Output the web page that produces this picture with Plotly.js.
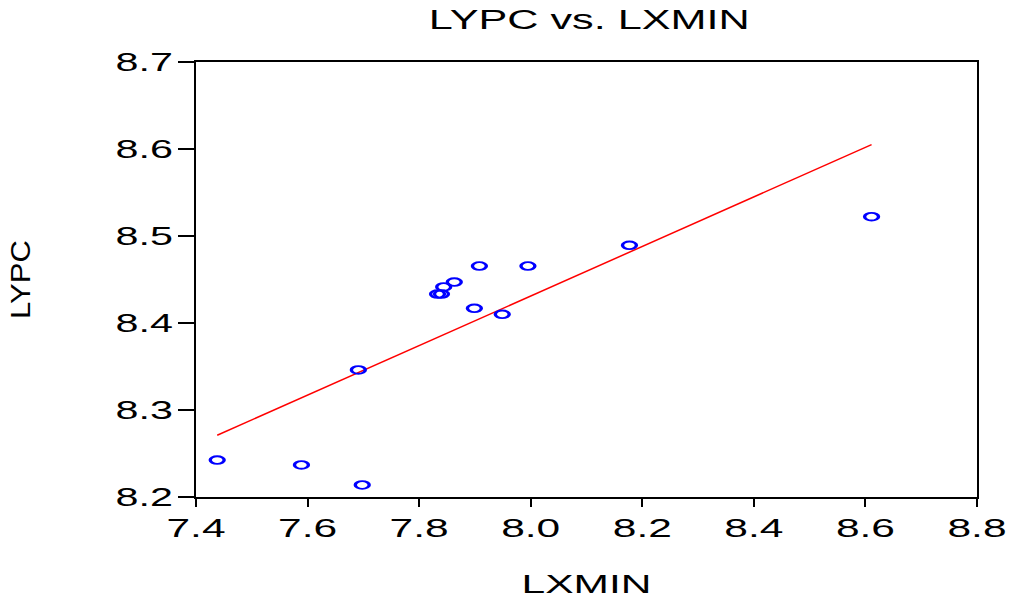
<!DOCTYPE html>
<html>
<head>
<meta charset="utf-8">
<script src="https://cdn.plot.ly/plotly-3.0.1.min.js"></script>
<style>
  html, body { margin: 0; padding: 0; background: #fff; }
  #chart { width: 1016px; height: 598px; }
</style>
</head>
<body>
<div id="chart"></div>
<script>
// Observations: log manufacturing exports (LXMIN) against log income per capita (LYPC)
const lxmin = [7.438, 7.589, 7.698, 7.691, 7.833, 7.840, 7.844, 7.863, 7.908, 7.995, 7.899, 7.949, 8.177, 8.611];
const lypc  = [8.2425, 8.2368, 8.2138, 8.346, 8.4333, 8.4333, 8.4414, 8.4471, 8.4655, 8.4655, 8.4169, 8.410, 8.4893, 8.5222];

// Fitted regression line, from the smallest to the largest LXMIN
const fitX = [7.438, 8.611];
const fitY = [8.271, 8.605];

const xTicks = [7.4, 7.6, 7.8, 8.0, 8.2, 8.4, 8.6, 8.8];
const yTicks = [8.2, 8.3, 8.4, 8.5, 8.6, 8.7];

const FONT = 'Liberation Sans, Arial, sans-serif';

const traces = [
  {
    x: fitX, y: fitY,
    type: 'scatter', mode: 'lines',
    line: { color: '#ff0000', width: 1.5 },
    hoverinfo: 'skip'
  },
  {
    x: lxmin, y: lypc,
    type: 'scatter', mode: 'markers',
    marker: { symbol: 'circle-open', size: 9, color: '#0000ff', line: { width: 2.2, color: '#0000ff' } }
  }
];

const layout = {
  width: 1016, height: 598,
  margin: { l: 196, r: 39, t: 62, b: 101 },
  paper_bgcolor: '#ffffff', plot_bgcolor: '#ffffff',
  showlegend: false,
  font: { family: FONT, color: '#000' },
  title: { text: 'LYPC vs. LXMIN', font: { family: FONT, size: 27, color: '#000' }, x: 0.58, xanchor: 'center', y: 0.968, yanchor: 'middle' },
  xaxis: {
    range: [7.4, 8.8], tickvals: xTicks, ticktext: xTicks.map(v => v.toFixed(1)),
    showgrid: false, zeroline: false,
    showline: true, mirror: true, linecolor: '#000', linewidth: 2,
    ticks: 'outside', ticklen: 8, tickwidth: 2, tickcolor: '#000',
    tickfont: { family: FONT, size: 25, color: '#000' },
    title: { text: 'LXMIN', font: { family: FONT, size: 25, color: '#000' }, standoff: 42 }
  },
  yaxis: {
    range: [8.2, 8.7], tickvals: yTicks, ticktext: yTicks.map(v => v.toFixed(1)),
    showgrid: false, zeroline: false,
    showline: true, mirror: true, linecolor: '#000', linewidth: 2,
    ticks: 'outside', ticklen: 16, tickwidth: 2, tickcolor: '#000',
    tickfont: { family: FONT, size: 25, color: '#000' },
    title: { text: 'LYPC', font: { family: FONT, size: 27, color: '#000' }, standoff: 100 }
  }
};

// Widen the text horizontally, the way the exported chart renders its labels
function stretch(sel, k) {
  document.querySelectorAll(sel).forEach(t => {
    const w = t.getComputedTextLength();
    t.setAttribute('textLength', (w * k).toFixed(1));
    t.setAttribute('lengthAdjust', 'spacingAndGlyphs');
  });
}

Plotly.newPlot('chart', traces, layout, { staticPlot: true }).then(() => {
  stretch('.xtick text', 1.7);
  stretch('.ytick text', 1.65);
  stretch('.gtitle', 1.6);
  stretch('.g-xtitle text', 1.7);
  stretch('.g-ytitle text', 1.15);
  // flatten the open circles into wide ellipses
  document.querySelectorAll('.scatterlayer .trace:last-child .point').forEach(p => {
    const tr = p.getAttribute('transform') || '';
    p.setAttribute('transform', tr + ' scale(1.55,0.85)');
  });
});
</script>
</body>
</html>
